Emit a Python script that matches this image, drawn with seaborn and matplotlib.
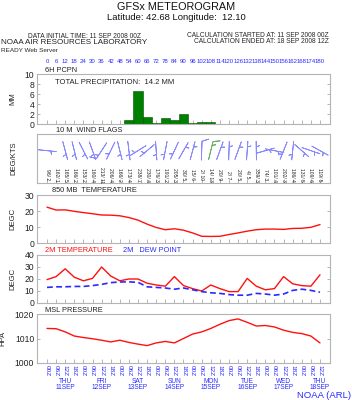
import numpy as np
import matplotlib
matplotlib.use("Agg")
import matplotlib.pyplot as plt
import seaborn as sns

sns.set_style("ticks")
plt.rcParams["font.family"] = ["Liberation Sans", "DejaVu Sans"]

# forecast hours, every 6 h from 11 SEP 2008 00Z
hours = list(range(0, 181, 6))
hour_labels = ["00Z", "06Z", "12Z", "18Z"] * 7 + ["00Z", "06Z", "12Z"]
day_hours = [12, 36, 60, 84, 108, 132, 156, 180]
day_labels = ["THU\n11SEP", "FRI\n12SEP", "SAT\n13SEP", "SUN\n14SEP",
              "MON\n15SEP", "TUE\n16SEP", "WED\n17SEP", "THU\n18SEP"]

# 6h precipitation (mm)
pcpn = [0] * 9 + [0.9, 6.7, 1.4, 0.3, 1.2, 0.8, 2.0, 0.2, 0.4, 0.4, 0.1] + [0] * 11

# 10 m wind (deg / kts)
wind_dir = [96, 162, 165, 166, 153, 160, 213, 206, 166, 173, 238, 230, 176, 191, 205,
            30, 15, 2, 14, 20, 2, 20, 4, 359, 74, 101, 202, 186, 131, 109, 119]
wind_spd = [2, 1, 5, 2, 2, 4, 11, 4, 2, 4, 7, 4, 3, 2, 3,
            5, 6, 10, 13, 9, 7, 5, 5, 3, 3, 4, 3, 4, 5, 6, 5]

# 850 mb temperature (C)
t850 = [22.4, 20.6, 20.7, 19.8, 19.0, 18.3, 17.5, 17.4, 17.0, 15.9, 14.3, 11.8, 9.7, 8.3,
        8.9, 8.0, 6.3, 4.2, 4.1, 4.2, 5.3, 6.3, 7.4, 8.3, 8.7, 8.7, 8.5, 9.1, 9.2, 9.8, 11.5]

# 2 m temperature and dew point (C)
t2m = [19.5, 22, 28.5, 21.5, 18.5, 20.5, 30, 22.5, 18.5, 20, 20, 16.5, 15, 14, 22, 14.5,
       12, 10, 15, 12, 9.5, 9.5, 20.5, 14, 11, 12, 22, 16, 14.5, 14, 23.5]
dewp = [13, 13.5, 13.5, 13.8, 13.8, 14.5, 15.5, 17, 17.5, 17.6, 17.2, 13.5, 13, 12.5, 11.5,
        12.5, 11, 9.5, 8.5, 8.0, 7.0, 6.5, 6.5, 8.0, 7.5, 6.5, 7.5, 10.5, 11.5, 10.5, 9.0]

# mean sea level pressure (hPa)
mslp = [1014.1, 1014.0, 1012.7, 1011.0, 1010.4, 1009.9, 1009.3, 1008.6, 1009.3, 1008.4,
        1007.7, 1007.1, 1008.2, 1008.8, 1008.2, 1010.0, 1011.8, 1012.7, 1014.1, 1015.8,
        1017.3, 1018.0, 1016.6, 1015.1, 1015.3, 1014.7, 1013.4, 1012.5, 1012.0, 1011.0, 1008.2]

W, H = 352, 400
fig = plt.figure(figsize=(W / 100, H / 100), dpi=100)


def box(top, bottom, left=37, right=330):
    return [left / W, 1 - bottom / H, (right - left) / W, (bottom - top) / H]


def ftext(x, y, s, **kw):
    fig.text(x / W, 1 - y / H, s, **kw)


ax_p = fig.add_axes(box(74, 124))
ax_w = fig.add_axes(box(134, 183))
ax_t = fig.add_axes(box(195, 243))
ax_s = fig.add_axes(box(255, 303))
ax_m = fig.add_axes(box(314, 363))
axes = [ax_p, ax_w, ax_t, ax_s, ax_m]

blue = "#2a2aff"
red = "#ff1010"

# precipitation bars
sns.barplot(x=hours, y=pcpn, native_scale=True, width=1.0, color="#008000",
            saturation=1, edgecolor="#004d00", linewidth=0.4, errorbar=None, ax=ax_p)
ax_p.set_ylim(0, 10)
ax_p.set_yticks(range(0, 11, 2))
ax_p.text(0.06, 0.84, "TOTAL PRECIPITATION:  14.2 MM", transform=ax_p.transAxes,
          fontsize=5.5, color="#222222", va="center")

# wind flags
rad = np.deg2rad(wind_dir)
u = -np.array(wind_spd) * np.sin(rad)
v = -np.array(wind_spd) * np.cos(rad)
bcol = ["#8a8aff"] * len(hours)
bcol[18] = "#70b070"
ax_w.barbs(hours, [0.66] * len(hours), u, v, length=5.2, pivot="middle",
           barbcolor=bcol, linewidth=0.6,
           barb_increments=dict(half=2, full=10, flag=50),
           sizes=dict(emptybarb=0, spacing=0.2, height=0.35))
for h, d, s in zip(hours, wind_dir, wind_spd):
    ax_w.text(h, 0.17, f"{d}/ {s}", rotation=-90, fontsize=3.6, ha="center",
              va="center", color="#222222")
ax_w.set_ylim(0, 1)
ax_w.set_yticks([])

# 850 mb temperature
sns.lineplot(x=hours, y=t850, color=red, linewidth=1.0, ax=ax_t)
ax_t.set_ylim(0, 30)
ax_t.set_yticks([0, 10, 20, 30])

# 2 m temperature / dew point
sns.lineplot(x=hours, y=t2m, color=red, linewidth=1.0, ax=ax_s)
sns.lineplot(x=hours, y=dewp, color=blue, linewidth=1.2, linestyle=(0, (3.5, 2)), ax=ax_s)
ax_s.set_ylim(0, 40)
ax_s.set_yticks([0, 10, 20, 30, 40])

# MSL pressure
sns.lineplot(x=hours, y=mslp, color=red, linewidth=1.0, ax=ax_m)
ax_m.set_ylim(1000, 1020)
ax_m.set_yticks([1000, 1010, 1020])

for ax, lab in zip(axes, ["MM", "DEG/KTS", "DEGC", "DEGC", "HPA"]):
    ax.set_xlim(-6.6, 186.6)
    ax.set_xticks(hours)
    ax.set_xlabel("")
    ax.set_ylabel(lab, fontsize=5.5, color="#222222", labelpad=6 if lab != "DEG/KTS" else 14)
    ax.tick_params(axis="x", direction="in", length=3, width=0.5, color="#999999",
                   labelbottom=False)
    ax.tick_params(axis="y", direction="in", length=2.5, width=0.5, color="#999999",
                   right=True, labelsize=6.2, labelcolor="#222222", pad=2)
    for sp in ax.spines.values():
        sp.set_color("#b4b4b4")
        sp.set_linewidth(0.8)

# top hour labels
ax_p.set_xticklabels([str(h) for h in hours])
ax_p.tick_params(axis="x", top=False, labeltop=True, labelsize=4.3, labelcolor=blue, pad=7)

# bottom time labels
ax_m.set_xticklabels(hour_labels)
ax_m.tick_params(axis="x", labelbottom=True, labelrotation=-90, labelsize=4.6,
                 labelcolor=blue, pad=1.5)
for h, d in zip(day_hours, day_labels):
    ax_m.text(h, -0.30, d, transform=ax_m.get_xaxis_transform(), ha="center", va="top",
              fontsize=4.7, color=blue, linespacing=0.85)

# panel titles
ftext(45, 70, "6H PCPN", fontsize=5.3, color="#222222", va="center")
ftext(56, 130, "10 M  WIND FLAGS", fontsize=5.3, color="#222222", va="center")
ftext(52, 191, "850 MB  TEMPERATURE", fontsize=5.3, color="#222222", va="center")
ftext(45, 251, "2M TEMPERATURE", fontsize=5.3, color=red, va="center")
ftext(123, 251, "2M   DEW POINT", fontsize=5.3, color=blue, va="center")
ftext(45, 311, "MSL PRESSURE", fontsize=5.3, color="#222222", va="center")

# header
ftext(176, 7, "GFSx METEOROGRAM", fontsize=7.8, ha="center", va="center", color="#111111")
ftext(176, 18, "Latitude: 42.68 Longitude:  12.10", fontsize=6.8, ha="center",
      va="center", color="#111111")
ftext(85, 36, "DATA INITIAL TIME: 11 SEP 2008 00Z", fontsize=4.8, ha="center", va="center")
ftext(1, 43, "NOAA AIR RESOURCES LABORATORY", fontsize=5.8, va="center", color="#222222")
ftext(1, 50, "READY Web Server", fontsize=4.6, va="center")
ftext(329, 35.5, "CALCULATION STARTED AT: 11 SEP 2008 00Z", fontsize=4.8, ha="right",
      va="center")
ftext(329, 41.5, "CALCULATION ENDED AT: 18 SEP 2008 12Z", fontsize=4.8, ha="right",
      va="center")
ftext(351, 396, "NOAA (ARL)", fontsize=6.8, ha="right", va="center", color=blue)

fig.savefig("out.png", dpi=100)
